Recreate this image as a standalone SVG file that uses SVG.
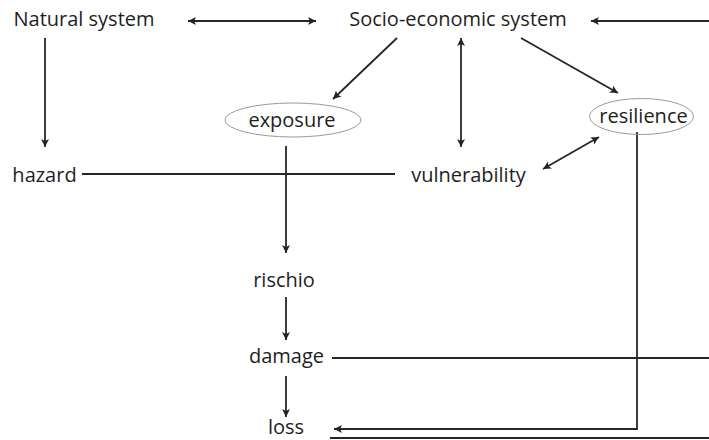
<svg xmlns="http://www.w3.org/2000/svg" width="709" height="440" viewBox="0 0 709 440">
<defs>
<marker id="ah" markerUnits="userSpaceOnUse" markerWidth="10" markerHeight="10" refX="8" refY="4" orient="auto-start-reverse" viewBox="0 0 10 8">
<path d="M0,0 L8,4 L0,8 L2,4 z" fill="#222"/>
</marker>
<style>
text{font-family:"Open Sans","Liberation Sans",sans-serif;font-size:20px;fill:#1e1e1e;text-anchor:middle}
.c line,.c polyline{stroke:#262626;stroke-width:1.8;fill:none}
.a{marker-end:url(#ah)}
.d{marker-start:url(#ah);marker-end:url(#ah)}
ellipse{fill:none;stroke:#9a9a9a;stroke-width:1}
</style>
</defs>
<rect width="709" height="440" fill="#fff"/>
<g class="c" id="connectors">
<line class="d" x1="188" y1="21" x2="316" y2="21"/>
<line class="a" x1="709" y1="21" x2="591" y2="21"/>
<line class="a" x1="45" y1="38" x2="45" y2="147"/>
<line class="a" x1="397" y1="38" x2="333" y2="99"/>
<line class="d" x1="461" y1="38" x2="461" y2="147"/>
<line class="a" x1="521" y1="38" x2="618" y2="93"/>
<line x1="82" y1="174" x2="395" y2="174"/>
<line class="d" x1="543" y1="169" x2="599" y2="137"/>
<line class="a" x1="286" y1="146" x2="286" y2="253"/>
<line class="a" x1="286" y1="297" x2="286" y2="340"/>
<line class="a" x1="286" y1="376" x2="286" y2="417"/>
<line x1="332" y1="358" x2="709" y2="358"/>
<polyline class="a" points="637,132 637,429 334,429"/>
<line x1="330" y1="438" x2="709" y2="438"/>
</g>
<g id="natural-system"><text x="84" y="26">Natural system</text></g>
<g id="socio-economic-system"><text x="458" y="26">Socio-economic system</text></g>
<g id="exposure"><ellipse cx="293" cy="120" rx="68" ry="17"/><text x="292" y="127">exposure</text></g>
<g id="resilience"><ellipse cx="641.5" cy="116.5" rx="52" ry="18"/><text x="643.5" y="123">resilience</text></g>
<g id="hazard"><text x="44.5" y="182">hazard</text></g>
<g id="vulnerability"><text x="468.5" y="182">vulnerability</text></g>
<g id="rischio"><text x="284" y="287">rischio</text></g>
<g id="damage"><text x="286.5" y="363">damage</text></g>
<g id="loss"><text x="286" y="434">loss</text></g>
</svg>
